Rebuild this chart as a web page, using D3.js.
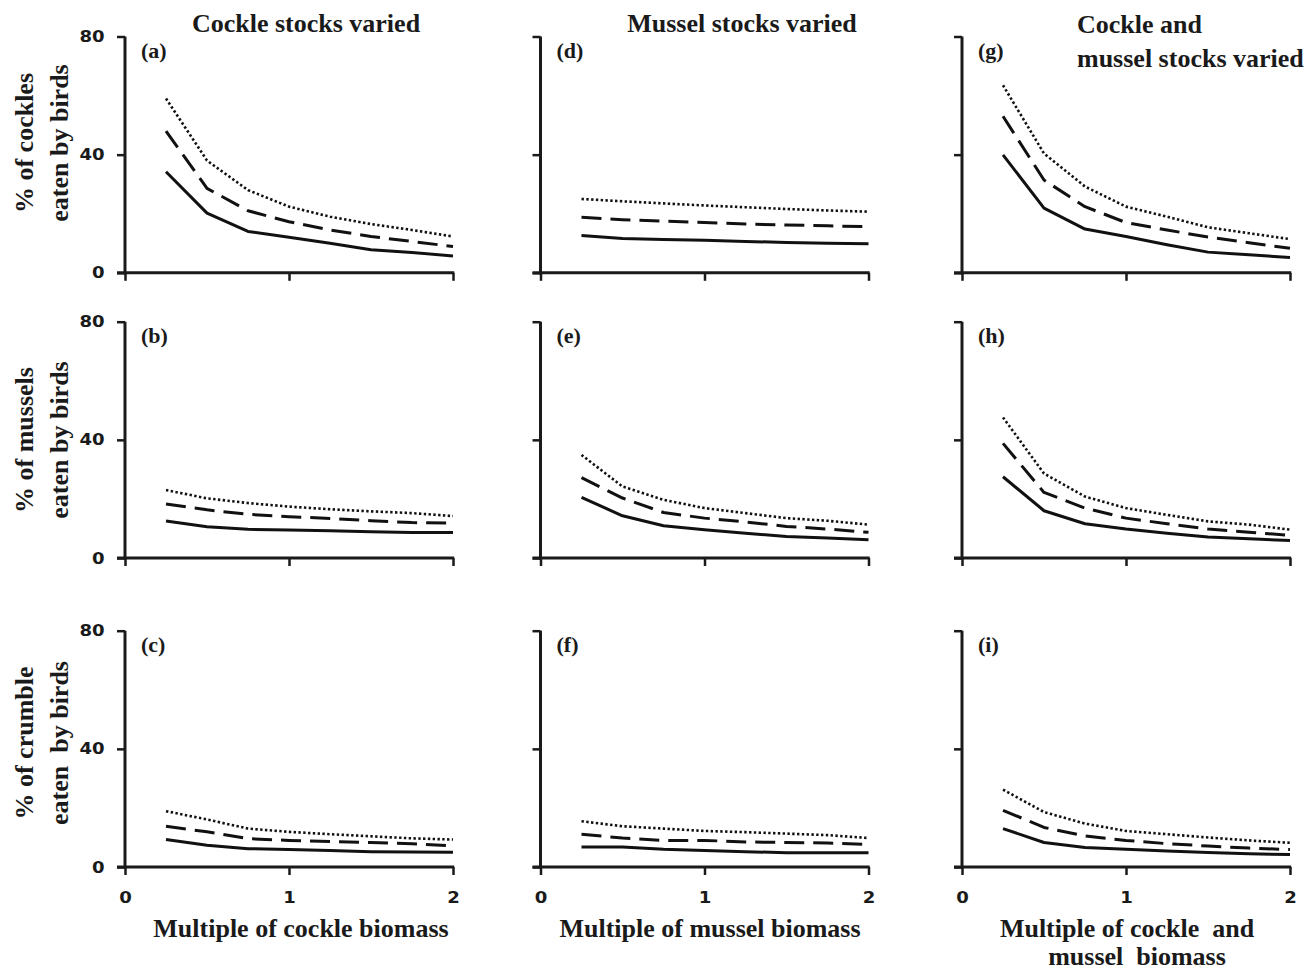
<!DOCTYPE html>
<html>
<head>
<meta charset="utf-8">
<script src="https://cdn.jsdelivr.net/npm/d3@7"></script>
<style>
  body { margin: 0; background: #fff; }
  .serif { font-family: "Liberation Serif", "Times New Roman", serif; font-weight: bold; fill: #1a1a1a; }
  .tick-label { font-family: "DejaVu Sans", Arial, sans-serif; font-weight: bold; font-size: 16px; fill: #1a1a1a; }
</style>
</head>
<body>
<svg width="1314" height="971"></svg>
<script>
// x positions (multiple of biomass) shared by every panel
var multiples = [0.25, 0.5, 0.75, 1, 1.25, 1.5, 1.75, 2];

// % eaten by birds; three scenarios per panel (solid, dashed, dotted)
// (a) cockles, cockle stocks varied
var aSolid  = [34.2, 20.2, 14.0, 12.0, 10.0, 7.8, 6.9, 5.7];
var aDashed = [48.0, 28.6, 21.0, 17.3, 14.5, 12.3, 10.6, 8.9];
var aDotted = [59.0, 38.0, 28.0, 22.4, 19.0, 16.5, 14.5, 12.3];
// (b) mussels, cockle stocks varied
var bSolid  = [12.5, 10.6, 9.7, 9.5, 9.2, 8.9, 8.6, 8.6];
var bDashed = [18.3, 16.3, 14.8, 14.0, 13.4, 12.6, 12.0, 11.8];
var bDotted = [23.0, 20.2, 18.6, 17.4, 16.5, 15.8, 15.2, 14.2];
// (c) crumble, cockle stocks varied
var cSolid  = [9.3, 7.4, 6.2, 5.9, 5.6, 5.2, 5.1, 5.0];
var cDashed = [13.8, 11.9, 9.6, 9.0, 8.6, 8.3, 7.9, 7.1];
var cDotted = [18.9, 16.1, 13.0, 11.9, 11.1, 10.4, 9.7, 9.3];
// (d) cockles, mussel stocks varied
var dSolid  = [12.6, 11.6, 11.3, 11.0, 10.6, 10.3, 10.0, 9.8];
var dDashed = [18.8, 18.0, 17.5, 17.0, 16.5, 16.2, 15.9, 15.6];
var dDotted = [25.0, 24.2, 23.5, 22.8, 22.2, 21.6, 21.1, 20.7];
// (e) mussels, mussel stocks varied
var eSolid  = [20.5, 14.3, 10.9, 9.6, 8.4, 7.3, 6.8, 6.2];
var eDashed = [27.2, 20.3, 15.4, 13.5, 12.2, 10.7, 9.8, 8.7];
var eDotted = [34.9, 24.2, 19.7, 16.9, 15.2, 13.5, 12.6, 11.3];
// (f) crumble, mussel stocks varied
var fSolid  = [6.8, 6.8, 6.0, 5.6, 5.2, 4.8, 4.8, 4.8];
var fDashed = [11.1, 9.8, 9.0, 9.0, 8.5, 8.3, 8.1, 7.6];
var fDotted = [15.5, 13.8, 13.0, 12.2, 11.8, 11.3, 10.8, 9.8];
// (g) cockles, both stocks varied
var gSolid  = [39.9, 21.9, 14.8, 12.3, 9.5, 7.0, 6.1, 5.2];
var gDashed = [53.0, 31.4, 22.4, 17.0, 14.5, 12.1, 10.2, 8.3];
var gDotted = [63.5, 40.4, 29.2, 22.4, 19.0, 15.4, 13.4, 11.4];
// (h) mussels, both stocks varied
var hSolid  = [27.5, 16.0, 11.6, 9.8, 8.4, 7.1, 6.5, 5.9];
var hDashed = [38.8, 22.2, 16.9, 13.5, 11.6, 9.8, 8.7, 7.7];
var hDotted = [47.6, 28.6, 20.8, 16.9, 14.6, 12.4, 11.3, 9.6];
// (i) crumble, both stocks varied
var iSolid  = [13.0, 8.3, 6.6, 6.0, 5.4, 4.9, 4.5, 4.2];
var iDashed = [19.2, 13.4, 10.5, 9.0, 7.9, 7.1, 6.4, 5.9];
var iDotted = [26.2, 18.6, 14.7, 12.2, 11.1, 10.0, 9.0, 8.2];

var yTicks = [0, 40, 80];
var xTicks = [0, 1, 2];
var columnTitles = [["Cockle stocks varied"], ["Mussel stocks varied"], ["Cockle and", "mussel stocks varied"]];
var rowTitles = [["% of cockles", "eaten by birds"], ["% of mussels", "eaten by birds"], ["% of crumble", "eaten  by birds"]];
var xTitles = [["Multiple of cockle biomass"], ["Multiple of mussel biomass"], ["Multiple of cockle  and", "mussel  biomass"]];

var panels = [
  {id: "(a)", col: 0, row: 0, series: [aSolid, aDashed, aDotted]},
  {id: "(b)", col: 0, row: 1, series: [bSolid, bDashed, bDotted]},
  {id: "(c)", col: 0, row: 2, series: [cSolid, cDashed, cDotted]},
  {id: "(d)", col: 1, row: 0, series: [dSolid, dDashed, dDotted]},
  {id: "(e)", col: 1, row: 1, series: [eSolid, eDashed, eDotted]},
  {id: "(f)", col: 1, row: 2, series: [fSolid, fDashed, fDotted]},
  {id: "(g)", col: 2, row: 0, series: [gSolid, gDashed, gDotted]},
  {id: "(h)", col: 2, row: 1, series: [hSolid, hDashed, hDotted]},
  {id: "(i)", col: 2, row: 2, series: [iSolid, iDashed, iDotted]}
];

// ***********************************
// Layout of the 3x3 grid
var svg = d3.select("svg");
var colLeft = [125, 540.5, 962];
var plotWidth = 328;
var rowTop = [36.5, 321.7, 630.7];
var plotHeight = 236.3;

// line styles: solid, dashed, dotted
var lineStyles = [
  {width: 3, dash: null},
  {width: 3, dash: "20,9"},
  {width: 2.6, dash: "2.4,2.4"}
];

panels.forEach(function(p) {
  var x = d3.scaleLinear().domain([0, 2]).range([0, plotWidth]);
  var y = d3.scaleLinear().domain([0, 80]).range([plotHeight, 0]);

  var g = svg.append("g")
    .attr("transform", "translate(" + colLeft[p.col] + "," + rowTop[p.row] + ")");

  // y axis: only first column gets numbers
  var yAxis = d3.axisLeft(y).tickValues(yTicks).tickSize(8).tickPadding(10)
    .tickFormat(p.col === 0 ? d3.format("d") : "");
  var ya = g.append("g").call(yAxis);

  // x axis: only bottom row gets numbers
  var xAxis = d3.axisBottom(x).tickValues(xTicks).tickSize(8).tickPadding(14)
    .tickFormat(p.row === 2 ? d3.format("d") : "");
  var xa = g.append("g").attr("transform", "translate(0," + plotHeight + ")").call(xAxis);

  [ya, xa].forEach(function(a) {
    a.attr("font-size", null).attr("font-family", null);
    a.select(".domain").remove();
    a.selectAll(".tick line").attr("stroke", "#1a1a1a").attr("stroke-width", 2.5);
    // the original numerals are wide and heavy: stretch them a little
    a.selectAll(".tick text").attr("class", "tick-label").attr("transform", "scale(1.13,1)");
  });
  xa.selectAll(".tick text").attr("dy", "0.85em");

  // axis lines drawn from the scales
  g.append("line")
    .attr("x1", x(0)).attr("x2", x(0))
    .attr("y1", y(80)).attr("y2", y(0) + 1.5)
    .attr("stroke", "#1a1a1a").attr("stroke-width", 3);
  g.append("line")
    .attr("x1", x(0) - 8).attr("x2", x(2) + 1.2)
    .attr("y1", y(0)).attr("y2", y(0))
    .attr("stroke", "#1a1a1a").attr("stroke-width", 3);

  var line = d3.line()
    .x(function(d, i) { return x(multiples[i]); })
    .y(function(d) { return y(d); });

  p.series.forEach(function(values, k) {
    g.append("path")
      .datum(values)
      .attr("d", line)
      .attr("fill", "none")
      .attr("stroke", "#111")
      .attr("stroke-width", lineStyles[k].width)
      .attr("stroke-dasharray", lineStyles[k].dash)
      .attr("stroke-linejoin", "round");
  });

  // panel letter
  g.append("text")
    .attr("class", "serif")
    .attr("x", 16).attr("y", 21.5)
    .attr("font-size", 22)
    .text(p.id);
});

// Column titles
var titlePos = [{x: 306, y: 32, anchor: "middle"}, {x: 742, y: 31.5, anchor: "middle"}, {x: 1077, y: 33, anchor: "start"}];
columnTitles.forEach(function(lines, c) {
  var t = svg.append("text").attr("class", "serif").attr("font-size", 26)
    .attr("text-anchor", titlePos[c].anchor);
  lines.forEach(function(s, i) {
    t.append("tspan").attr("x", titlePos[c].x).attr("y", titlePos[c].y + i * 34).text(s);
  });
});

// Row titles (rotated, two lines)
var rowCenter = [143, 440, 743];
rowTitles.forEach(function(lines, r) {
  var t = svg.append("text").attr("class", "serif").attr("font-size", 26)
    .attr("text-anchor", "middle")
    .attr("transform", "translate(0," + rowCenter[r] + ") rotate(-90)")
    .style("white-space", "pre");
  lines.forEach(function(s, i) {
    t.append("tspan").attr("x", 0).attr("y", 33 + i * 35).text(s);
  });
});

// X axis titles
var xTitleCenter = [301, 710, 1127];
xTitles.forEach(function(lines, c) {
  var t = svg.append("text").attr("class", "serif").attr("font-size", 26)
    .attr("text-anchor", "middle")
    .style("white-space", "pre");
  lines.forEach(function(s, i) {
    t.append("tspan").attr("x", xTitleCenter[c] + (i ? 10 : 0)).attr("y", 937 + i * 28).text(s);
  });
});
</script>
</body>
</html>
